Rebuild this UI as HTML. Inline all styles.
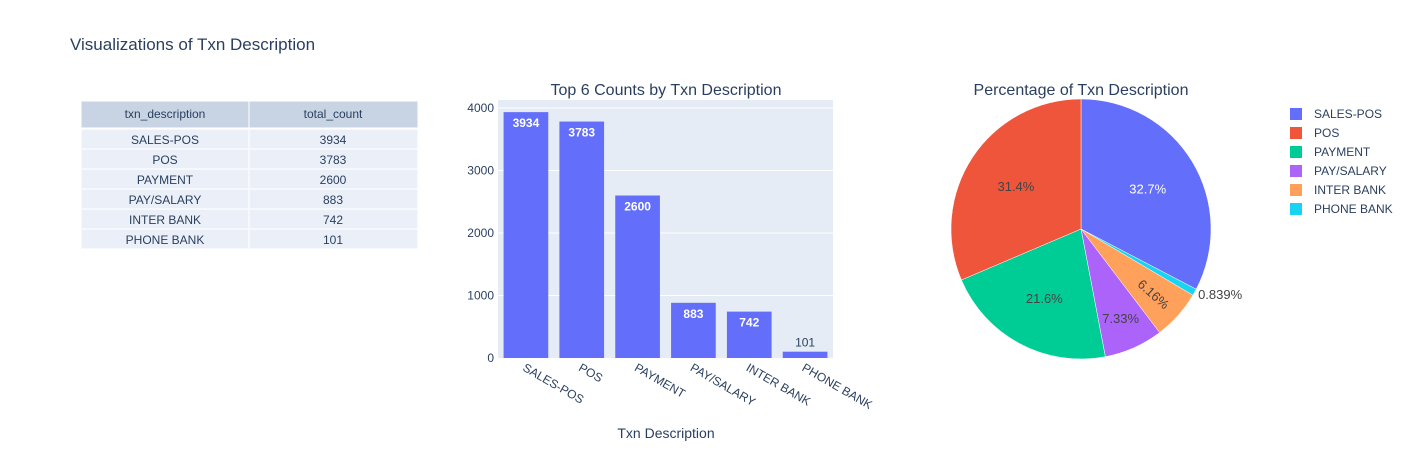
<!DOCTYPE html>
<html><head><meta charset="utf-8"><style>
body{margin:0;background:#fff;}
svg text{font-family:"Liberation Sans",sans-serif;}
</style></head><body>
<svg id="c" width="1412" height="450" xmlns="http://www.w3.org/2000/svg">
<text x="70" y="50" font-size="17" fill="#2a3f5f">Visualizations of Txn Description</text>
<g id="table"></g>
<g id="bar"></g>
<g id="pie"></g>
<g id="legend"></g>
</svg>
<script>
const categories=["SALES-POS","POS","PAYMENT","PAY/SALARY","INTER BANK","PHONE BANK"];
const counts=[3934,3783,2600,883,742,101];
const yTicks=[0,1000,2000,3000,4000];
const pieOrder=[0,5,4,3,2,1];
const colors=["#636efa","#EF553B","#00cc96","#ab63fa","#FFA15A","#19d3f3"];
const NS="http://www.w3.org/2000/svg";
function mk(p,t,a,txt){const e=document.createElementNS(NS,t);for(const k in a)e.setAttribute(k,a[k]);if(txt!==undefined)e.textContent=txt;p.appendChild(e);return e;}
// table
const tb=document.getElementById('table');
let h=mk(tb,'rect',{x:81,y:101,width:168,height:27,fill:'#c8d4e3',stroke:'#fff'});

h=mk(tb,'rect',{x:249,y:101,width:169,height:27,fill:'#c8d4e3',stroke:'#fff'});

mk(tb,'text',{x:165,y:118,'font-size':12,fill:'#2a3f5f','text-anchor':'middle'},'txn_description');
mk(tb,'text',{x:333,y:118,'font-size':12,fill:'#2a3f5f','text-anchor':'middle'},'total_count');
categories.forEach((c,i)=>{const y=129+i*20;
 const r=mk(tb,'rect',{x:81,y:y,width:168,height:20,fill:'#ebf0f8',stroke:'#fff'});
 
 mk(tb,'rect',{x:249,y:y,width:169,height:20,fill:'#ebf0f8',stroke:'#fff'});
 mk(tb,'text',{x:165,y:y+15,'font-size':12,fill:'#2a3f5f','text-anchor':'middle'},c);
 mk(tb,'text',{x:333,y:y+15,'font-size':12,fill:'#2a3f5f','text-anchor':'middle'},counts[i]);
});
// bar chart
const bg=document.getElementById('bar');
const X0=498,X1=833,Y0=358,Ytop=100,ymax=4128;
const ys=v=>Y0-(v/ymax)*(Y0-Ytop);
const bw=(X1-X0)/categories.length;
mk(bg,'rect',{x:X0,y:Ytop,width:X1-X0,height:Y0-Ytop,fill:'#e5ecf6'});
mk(bg,'text',{x:666,y:95,'font-size':16,fill:'#2a3f5f','text-anchor':'middle'},'Top 6 Counts by Txn Description');
yTicks.forEach(t=>{const y=ys(t);
 if(t>0)mk(bg,'line',{x1:X0,x2:X1,y1:y,y2:y,stroke:'#fff','stroke-width':1});
 mk(bg,'text',{x:X0-4,y:y+4,'font-size':12,fill:'#2a3f5f','text-anchor':'end'},t);
});
categories.forEach((c,i)=>{const cx=X0+bw*(i+0.5),y=ys(counts[i]);
 const b=mk(bg,'rect',{x:cx-bw*0.4,y:y,width:bw*0.8,height:Y0-y,fill:colors[0]});
 
 
 if(Y0-y>25)mk(bg,'text',{x:cx,y:y+15,'font-size':12,fill:'#fff','text-anchor':'middle','font-weight':'bold'},counts[i]);
 else mk(bg,'text',{x:cx,y:y-5,'font-size':12,fill:'#2a3f5f','text-anchor':'middle'},counts[i]);
 mk(bg,'text',{x:cx-4,y:Y0+12,'font-size':12,fill:'#2a3f5f',transform:`rotate(30 ${cx-4} ${Y0+12})`},c);
});
mk(bg,'text',{x:666,y:438,'font-size':14,fill:'#2a3f5f','text-anchor':'middle'},'Txn Description');
// pie
const pg=document.getElementById('pie');
const cx=1081,cy=229,R=130,tot=counts.reduce((a,b)=>a+b,0);
mk(pg,'text',{x:1081,y:95,'font-size':16,fill:'#2a3f5f','text-anchor':'middle'},'Percentage of Txn Description');
let a=0;
pieOrder.forEach(i=>{const c=categories[i];const f=counts[i]/tot,a2=a+f*2*Math.PI;
 const p=(t)=>[cx+R*Math.sin(t),cy-R*Math.cos(t)];
 const [x1,y1]=p(a),[x2,y2]=p(a2);
 const s=mk(pg,'path',{d:`M${cx},${cy}L${x1},${y1}A${R},${R} 0 ${f>0.5?1:0} 1 ${x2},${y2}Z`,fill:colors[i],stroke:'#fff','stroke-width':0.5});
 
 
 a=a2;
});
a=0;
pieOrder.forEach(i=>{const f=counts[i]/tot,a2=a+f*2*Math.PI;const m=(a+a2)/2,pct=f*100;
 const lbl=pct>=10?pct.toFixed(1)+'%':pct>=1?pct.toFixed(2)+'%':pct.toFixed(3)+'%';
 if(pct>3){const r=pct>10?R*0.6:R*0.75;const x=cx+r*Math.sin(m),y=cy-r*Math.cos(m);
  const rot=(pct<7)?(m*180/Math.PI-90):0;
  mk(pg,'text',{x:x,y:y+5,'font-size':13,fill:i==0?'#fff':'#444','text-anchor':'middle',transform:`rotate(${rot} ${x} ${y})`},lbl);}
 else mk(pg,'text',{x:cx+(R+4)*Math.sin(m),y:cy-(R+4)*Math.cos(m)+5,'font-size':13,fill:'#444'},lbl);
 a=a2;
});
// legend
const lg=document.getElementById('legend');
categories.forEach((c,i)=>{const y=114+i*19;
 const it=mk(lg,'g',{});
 
 mk(it,'rect',{x:1290,y:y-6,width:12,height:12,fill:colors[i]});
 mk(it,'text',{x:1314,y:y+4,'font-size':12,fill:'#2a3f5f'},c);
});
</script>
</body></html>
